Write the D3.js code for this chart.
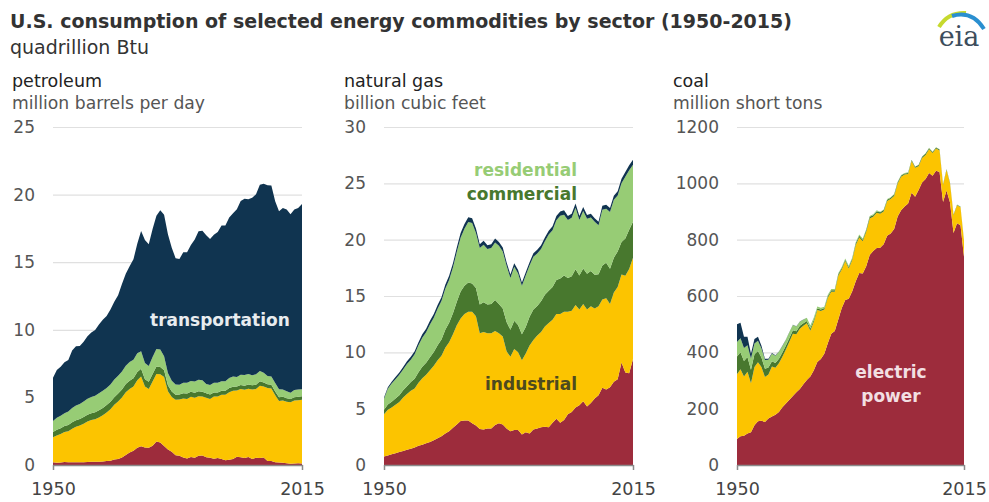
<!DOCTYPE html>
<html>
<head>
<meta charset="utf-8">
<script src="https://cdn.jsdelivr.net/npm/d3@7"></script>
<style>
  body { margin: 0; background: #fff; }
  svg { display: block; font-family: 'DejaVu Sans', sans-serif; }
</style>
</head>
<body>
<script>
// Years on the x axis
const years = d3.range(1950, 2016);

// Sector order, bottom to top of every stack
const sectors = ['electric', 'industrial', 'commercial', 'residential', 'transportation'];
const sectorColors = ['#9d2c3c', '#fcc400', '#48782e', '#97cc75', '#103450'];

// Petroleum, million barrels per day
const petroleumElectric = [
  0.21, 0.17, 0.19, 0.22, 0.2, 0.21, 0.21, 0.21, 0.2, 0.22,
  0.24, 0.24, 0.24, 0.26, 0.29, 0.32, 0.4, 0.45, 0.55, 0.74,
  0.93, 1.06, 1.27, 1.39, 1.3, 1.28, 1.43, 1.73, 1.66, 1.4,
  1.15, 0.98, 0.72, 0.69, 0.56, 0.48, 0.59, 0.53, 0.69, 0.71,
  0.57, 0.54, 0.46, 0.52, 0.45, 0.35, 0.38, 0.44, 0.61, 0.57,
  0.51, 0.59, 0.44, 0.53, 0.52, 0.55, 0.29, 0.3, 0.21, 0.18,
  0.17, 0.13, 0.1, 0.12, 0.13, 0.12];
const petroleumIndustrial = [
  1.84, 2.02, 2.1, 2.22, 2.3, 2.48, 2.62, 2.72, 2.85, 3.0,
  3.08, 3.15, 3.28, 3.42, 3.6, 3.8, 4.05, 4.25, 4.45, 4.65,
  4.7, 4.75, 5.0, 5.15, 4.5, 4.35, 4.75, 5.0, 5.05, 5.1,
  4.3, 4.05, 4.1, 4.15, 4.35, 4.4, 4.45, 4.45, 4.4, 4.35,
  4.4, 4.35, 4.6, 4.55, 4.75, 4.85, 5.0, 5.05, 4.9, 5.05,
  5.05, 5.05, 5.15, 5.1, 5.35, 5.25, 5.4, 5.35, 4.95, 4.55,
  4.6, 4.55, 4.55, 4.65, 4.65, 4.7];
const petroleumCommercial = [
  0.4, 0.42, 0.43, 0.44, 0.45, 0.47, 0.48, 0.48, 0.5, 0.5,
  0.51, 0.52, 0.53, 0.54, 0.55, 0.56, 0.57, 0.58, 0.59, 0.6,
  0.6, 0.6, 0.6, 0.58, 0.55, 0.52, 0.55, 0.55, 0.54, 0.5,
  0.45, 0.4, 0.38, 0.38, 0.4, 0.4, 0.38, 0.37, 0.36, 0.35,
  0.33, 0.32, 0.31, 0.3, 0.3, 0.3, 0.31, 0.3, 0.29, 0.3,
  0.31, 0.31, 0.3, 0.31, 0.32, 0.31, 0.28, 0.28, 0.28, 0.28,
  0.27, 0.26, 0.24, 0.25, 0.26, 0.26];
const petroleumResidential = [
  0.8, 0.88, 0.92, 0.94, 1.0, 1.05, 1.1, 1.1, 1.15, 1.18,
  1.2, 1.22, 1.25, 1.27, 1.26, 1.28, 1.3, 1.32, 1.33, 1.36,
  1.38, 1.38, 1.4, 1.3, 1.2, 1.18, 1.25, 1.3, 1.3, 1.05,
  0.9, 0.8, 0.75, 0.72, 0.78, 0.8, 0.8, 0.82, 0.85, 0.85,
  0.7, 0.7, 0.72, 0.72, 0.7, 0.7, 0.75, 0.75, 0.7, 0.75,
  0.78, 0.78, 0.74, 0.78, 0.76, 0.72, 0.62, 0.62, 0.63, 0.6,
  0.55, 0.52, 0.45, 0.52, 0.55, 0.52];
const petroleumTransportation = [
  3.21, 3.53, 3.63, 3.78, 3.81, 4.25, 4.37, 4.3, 4.42, 4.63,
  4.77, 4.85, 5.1, 5.25, 5.32, 5.55, 5.76, 5.96, 6.47, 6.79,
  7.09, 7.42, 8.1, 8.89, 9.1, 8.99, 9.48, 9.85, 10.3, 10.46,
  10.26, 9.83, 9.35, 9.29, 9.64, 9.65, 10.06, 10.5, 10.98, 11.07,
  10.99, 10.8, 10.94, 11.15, 11.52, 11.52, 11.87, 12.08, 12.42, 12.85,
  13.05, 12.92, 13.13, 13.31, 13.78, 13.97, 14.1, 14.13, 13.43, 13.16,
  13.41, 13.44, 13.21, 13.36, 13.41, 13.7];

// Natural gas
const gasElectric = [
  0.75, 0.85, 0.95, 1.05, 1.15, 1.25, 1.35, 1.45, 1.55, 1.7,
  1.8, 1.92, 2.05, 2.2, 2.38, 2.55, 2.8, 3.0, 3.3, 3.6,
  3.9, 3.95, 3.95, 3.7, 3.5, 3.2, 3.15, 3.25, 3.25, 3.55,
  3.7, 3.6, 3.25, 3.0, 3.1, 3.1, 2.7, 2.9, 2.8, 3.15,
  3.25, 3.35, 3.4, 3.35, 3.75, 4.1, 3.75, 4.0, 4.5, 4.7,
  5.1, 5.3, 5.65, 5.2, 5.5, 5.9, 6.2, 6.85, 6.7, 6.9,
  7.4, 7.6, 9.1, 8.2, 8.15, 9.4];
const gasIndustrial = [
  3.75, 4.05, 4.15, 4.3, 4.45, 4.75, 4.95, 5.15, 5.25, 5.6,
  5.9, 6.08, 6.35, 6.6, 6.92, 7.15, 7.6, 7.9, 8.3, 8.8,
  9.1, 9.45, 9.65, 9.9, 9.7, 8.5, 8.65, 8.45, 8.45, 8.35,
  8.0, 7.8, 6.85, 6.6, 7.2, 6.9, 6.6, 7.0, 7.8, 7.95,
  8.25, 8.45, 8.9, 9.25, 9.15, 9.3, 9.65, 9.6, 9.1, 9.0,
  9.1, 8.5, 8.65, 8.6, 8.6, 8.0, 7.9, 7.85, 8.1, 7.4,
  7.9, 8.2, 7.8, 8.6, 9.25, 9.0];
const gasCommercial = [
  0.4, 0.47, 0.52, 0.55, 0.6, 0.63, 0.7, 0.76, 0.85, 0.93,
  1.02, 1.07, 1.17, 1.22, 1.33, 1.44, 1.6, 1.73, 1.87, 2.1,
  2.4, 2.5, 2.6, 2.5, 2.5, 2.55, 2.65, 2.55, 2.6, 2.75,
  2.6, 2.5, 2.6, 2.4, 2.5, 2.43, 2.3, 2.35, 2.55, 2.7,
  2.62, 2.73, 2.8, 2.86, 2.9, 3.03, 3.16, 3.22, 3.0, 3.05,
  3.18, 3.02, 3.14, 3.18, 3.13, 2.99, 2.83, 3.01, 3.15, 3.12,
  3.1, 3.16, 2.9, 3.3, 3.47, 3.2];
const gasResidential = [
  0.98, 1.39, 1.62, 1.72, 1.8, 1.85, 1.96, 1.99, 2.19, 2.39,
  2.58, 2.72, 2.91, 3.05, 3.23, 3.41, 3.64, 3.8, 4.05, 4.4,
  4.78, 5.07, 5.36, 5.37, 4.9, 5.0, 5.1, 4.92, 4.97, 5.1,
  5.15, 5.06, 4.98, 4.6, 4.79, 4.57, 4.32, 4.56, 4.55, 4.68,
  4.65, 4.64, 4.76, 4.99, 5.04, 5.3, 5.56, 5.4, 5.14, 5.19,
  5.46, 4.93, 5.1, 4.88, 4.74, 4.69, 4.35, 4.95, 4.8, 5.03,
  5.14, 4.97, 5.21, 5.48, 5.3, 5.06];
const gasTransportation = [
  0.12, 0.14, 0.16, 0.18, 0.2, 0.22, 0.24, 0.25, 0.26, 0.28,
  0.3, 0.31, 0.32, 0.33, 0.34, 0.35, 0.36, 0.37, 0.38, 0.4,
  0.42, 0.43, 0.44, 0.43, 0.4, 0.35, 0.35, 0.33, 0.33, 0.35,
  0.35, 0.34, 0.32, 0.3, 0.31, 0.3, 0.28, 0.29, 0.3, 0.32,
  0.33, 0.33, 0.34, 0.35, 0.36, 0.37, 0.38, 0.38, 0.36, 0.36,
  0.36, 0.35, 0.36, 0.34, 0.33, 0.32, 0.32, 0.34, 0.35, 0.35,
  0.36, 0.37, 0.39, 0.42, 0.43, 0.44];

// Coal, million short tons
const coalElectric = [
  92, 102, 104, 112, 116, 141, 155, 157, 153, 165,
  172, 178, 188, 205, 218, 232, 245, 258, 270, 287,
  302, 314, 336, 366, 376, 395, 432, 466, 476, 517,
  557, 586, 590, 617, 652, 682, 680, 706, 746, 760,
  770, 771, 784, 814, 822, 838, 882, 904, 918, 928,
  967, 952, 976, 1003, 1015, 1037, 1027, 1045, 1040, 934,
  975, 932, 824, 858, 851, 739];
const coalIndustrial = [
  230, 238, 210, 219, 174, 207, 210, 191, 159, 156,
  178, 167, 173, 179, 192, 206, 221, 206, 214, 207,
  201, 163, 173, 184, 171, 157, 162, 149, 139, 155,
  137, 138, 108, 111, 129, 126, 114, 122, 129, 121,
  126, 121, 116, 123, 122, 117, 117, 119, 113, 105,
  112, 103, 85, 87, 86, 84, 81, 79, 77, 60,
  72, 67, 63, 64, 64, 56];
const coalCommercial = [
  63, 60, 55, 52, 48, 45, 40, 34, 30, 25,
  18, 17, 16, 15, 14, 13, 12, 11, 10, 9,
  8, 8, 7, 6, 5, 5, 5, 5, 5, 5,
  5, 5, 5, 5, 6, 6, 6, 6, 6, 6,
  5, 5, 5, 5, 5, 5, 5, 5, 4, 4,
  4, 4, 4, 4, 5, 4, 3, 3, 3, 3,
  3, 3, 2, 2, 2, 2];
const coalResidential = [
  52, 50, 46, 42, 40, 38, 36, 32, 31, 28,
  27, 26, 25, 23, 21, 20, 19, 17, 15, 13,
  12, 10, 8, 7, 6, 5, 5, 5, 5, 4,
  4, 4, 4, 4, 4, 4, 4, 3, 3, 3,
  3, 2, 2, 2, 2, 2, 2, 2, 2, 2,
  1, 1, 1, 1, 1, 1, 1, 1, 1, 1,
  0.5, 0.5, 0.5, 0.5, 0.5, 0.5];
const coalTransportation = [
  63, 55, 40, 30, 17, 16, 14, 9, 4, 3,
  3, 2, 1, 1, 1, 1, 0.5, 0.5, 0.5, 0.5,
  0, 0, 0, 0, 0, 0, 0, 0, 0, 0,
  0, 0, 0, 0, 0, 0, 0, 0, 0, 0,
  0, 0, 0, 0, 0, 0, 0, 0, 0, 0,
  0, 0, 0, 0, 0, 0, 0, 0, 0, 0,
  0, 0, 0, 0, 0, 0];

// Axis tick values
const petroleumTicks = [0, 5, 10, 15, 20, 25];
const gasTicks = [0, 5, 10, 15, 20, 25, 30];
const coalTicks = [0, 200, 400, 600, 800, 1000, 1200];
const yearTicks = [1950, 2015];

// Canvas
const width = 989;
const height = 502;
const plotTop = 127;
const plotBottom = 465;

const svg = d3
  .select('body')
  .append('svg')
  .attr('width', width)
  .attr('height', height);

svg.append('rect').attr('width', width).attr('height', height).attr('fill', '#fff');

// Titles
svg
  .append('text')
  .attr('x', 10)
  .attr('y', 28)
  .attr('font-size', 19)
  .attr('font-weight', 'bold')
  .attr('fill', '#333')
  .text('U.S. consumption of selected energy commodities by sector (1950-2015)');

svg
  .append('text')
  .attr('x', 10)
  .attr('y', 54)
  .attr('font-size', 19)
  .attr('fill', '#333')
  .text('quadrillion Btu');

// eia logo
const logo = svg.append('g').attr('transform', 'translate(936, 8)');
logo
  .append('path')
  .attr('d', 'M3,19 Q12,4 30,5')
  .attr('fill', 'none')
  .attr('stroke', '#c6d92e')
  .attr('stroke-width', 4);
logo
  .append('path')
  .attr('d', 'M16,8 Q36,2 48,21')
  .attr('fill', 'none')
  .attr('stroke', '#2a8fd0')
  .attr('stroke-width', 4);
logo
  .append('text')
  .attr('x', 23)
  .attr('y', 38)
  .attr('text-anchor', 'middle')
  .attr('font-family', 'DejaVu Serif, serif')
  .attr('font-size', 27)
  .attr('fill', '#3d4d5c')
  .text('eia');

const panels = [
  {
    name: 'petroleum',
    unit: 'million barrels per day',
    titleX: 12,
    x0: 53,
    x1: 302,
    ticks: petroleumTicks,
    values: [petroleumElectric, petroleumIndustrial, petroleumCommercial, petroleumResidential, petroleumTransportation],
    labels: [
      { text: 'transportation', x: 150, y: 326, anchor: 'start', color: '#e8ecef' },
    ],
  },
  {
    name: 'natural gas',
    unit: 'billion cubic feet',
    titleX: 344,
    x0: 384,
    x1: 633,
    ticks: gasTicks,
    values: [gasElectric, gasIndustrial, gasCommercial, gasResidential, gasTransportation],
    labels: [
      { text: 'residential', x: 577, y: 176, anchor: 'end', color: '#97cc75' },
      { text: 'commercial', x: 577, y: 200, anchor: 'end', color: '#48782e' },
      { text: 'industrial', x: 577, y: 390, anchor: 'end', color: '#4d4a1f' },
    ],
  },
  {
    name: 'coal',
    unit: 'million short tons',
    titleX: 673,
    x0: 737,
    x1: 964,
    ticks: coalTicks,
    values: [coalElectric, coalIndustrial, coalCommercial, coalResidential, coalTransportation],
    labels: [
      { text: 'electric', x: 891, y: 378, anchor: 'middle', color: '#f2dfe2' },
      { text: 'power', x: 891, y: 402, anchor: 'middle', color: '#f2dfe2' },
    ],
  },
];

panels.forEach((panel) => {
  const g = svg.append('g');

  g.append('text')
    .attr('x', panel.titleX)
    .attr('y', 87)
    .attr('font-size', 17.5)
    .attr('fill', '#222')
    .text(panel.name);

  g.append('text')
    .attr('x', panel.titleX)
    .attr('y', 109)
    .attr('font-size', 17.2)
    .attr('fill', '#555')
    .text(panel.unit);

  const x = d3.scaleLinear().domain([1950, 2015]).range([panel.x0, panel.x1]);
  const y = d3
    .scaleLinear()
    .domain([0, d3.max(panel.ticks)])
    .range([plotBottom, plotTop]);

  // Gridlines
  const grid = g
    .append('g')
    .attr('transform', `translate(${panel.x0}, 0)`)
    .call(
      d3
        .axisLeft(y)
        .tickValues(panel.ticks.slice(1))
        .tickSize(-(panel.x1 - panel.x0))
        .tickFormat('')
    );
  grid.select('.domain').remove();
  grid.selectAll('line').attr('stroke', '#e0e0e0').attr('stroke-width', 1.2);

  // Y tick labels
  const yAxis = g
    .append('g')
    .attr('transform', `translate(${panel.x0}, 0)`)
    .call(
      d3
        .axisLeft(y)
        .tickValues(panel.ticks)
        .tickSize(0)
        .tickPadding(18)
        .tickFormat(d3.format('d'))
    );
  yAxis.select('.domain').remove();
  yAxis
    .selectAll('text')
    .attr('font-family', 'DejaVu Sans, sans-serif')
    .attr('font-size', 17)
    .attr('fill', '#555');

  // Stacked areas
  const rows = years.map((year, i) => {
    const row = { year };
    sectors.forEach((s, k) => {
      row[s] = panel.values[k][i];
    });
    return row;
  });
  const stacked = d3.stack().keys(sectors)(rows);
  const area = d3
    .area()
    .x((d) => x(d.data.year))
    .y0((d) => y(d[0]))
    .y1((d) => y(d[1]));

  g.append('g')
    .selectAll('path')
    .data(stacked)
    .enter()
    .append('path')
    .attr('d', area)
    .attr('fill', (d, i) => sectorColors[i]);

  // Bottom axis
  const xAxis = g
    .append('g')
    .attr('transform', `translate(0, ${plotBottom})`)
    .call(
      d3
        .axisBottom(x)
        .tickValues(yearTicks)
        .tickSizeInner(5)
        .tickSizeOuter(0)
        .tickPadding(13)
        .tickFormat(d3.format('d'))
    );
  xAxis.select('.domain').attr('stroke', '#8a8a8a').attr('stroke-width', 1.5);
  xAxis.selectAll('line').attr('stroke', '#8a8a8a').attr('stroke-width', 1.5);
  xAxis
    .selectAll('text')
    .attr('font-family', 'DejaVu Sans, sans-serif')
    .attr('font-size', 17.5)
    .attr('fill', '#444');

  // Sector labels
  g.selectAll('.sector-label')
    .data(panel.labels)
    .enter()
    .append('text')
    .attr('class', 'sector-label')
    .attr('x', (d) => d.x)
    .attr('y', (d) => d.y)
    .attr('text-anchor', (d) => d.anchor)
    .attr('font-size', 17)
    .attr('font-weight', 'bold')
    .attr('fill', (d) => d.color)
    .text((d) => d.text);
});
</script>
</body>
</html>
